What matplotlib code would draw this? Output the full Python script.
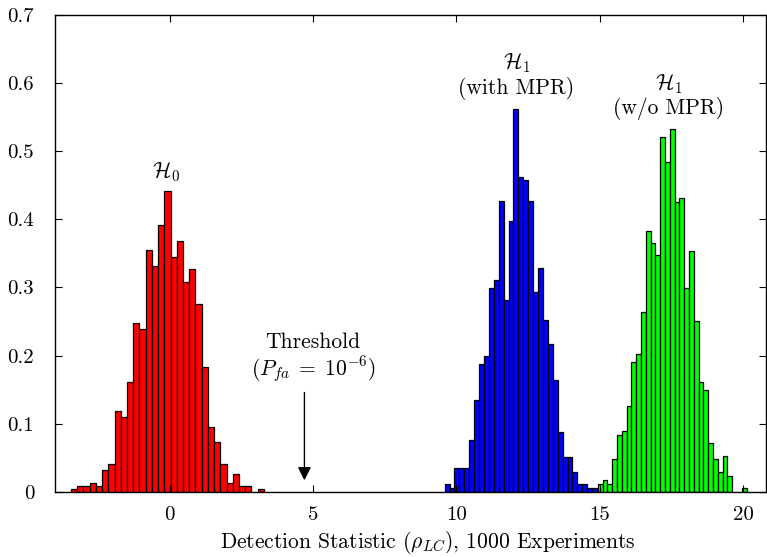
import numpy as np
import matplotlib
matplotlib.use("Agg")
import matplotlib.pyplot as plt

plt.rcParams['font.family'] = ['cmr10', 'DejaVu Serif']
plt.rcParams['mathtext.fontset'] = 'cm'
plt.rcParams['axes.formatter.use_mathtext'] = True

# Histogram bins (left edge of first bin, bin width) and density heights
h0_start, h0_width = -3.44, 0.217
h0_density = [0.004, 0.009, 0.009, 0.013, 0.009, 0.032, 0.041, 0.119, 0.110, 0.161,
              0.248, 0.239, 0.355, 0.331, 0.391, 0.442, 0.345, 0.368, 0.308, 0.327,
              0.276, 0.184, 0.096, 0.073, 0.041, 0.013, 0.027, 0.009, 0.009, 0.0,
              0.004]

h1_mpr_start, h1_mpr_width = 9.59, 0.1715
h1_mpr_density = [0.011, 0.006, 0.035, 0.035, 0.035, 0.076, 0.135, 0.187, 0.199, 0.299,
                  0.311, 0.427, 0.281, 0.398, 0.562, 0.462, 0.457, 0.427, 0.293, 0.328,
                  0.252, 0.217, 0.164, 0.088, 0.052, 0.052, 0.029, 0.011, 0.011, 0.006,
                  0.006]

h1_nompr_start, h1_nompr_width = 14.93, 0.1675
h1_nompr_density = [0.011, 0.017, 0.011, 0.048, 0.084, 0.090, 0.126, 0.191, 0.203, 0.264,
                    0.383, 0.365, 0.348, 0.521, 0.484, 0.532, 0.425, 0.431, 0.299, 0.353,
                    0.251, 0.161, 0.150, 0.072, 0.048, 0.030, 0.053, 0.024, 0.0, 0.0,
                    0.006]

threshold = 4.70
x_ticks = [0, 5, 10, 15, 20]
y_ticks = [0, 0.1, 0.2, 0.3, 0.4, 0.5, 0.6, 0.7]

fig = plt.figure(figsize=(7.67, 5.57), dpi=100)
ax = fig.add_axes([55 / 767, 65 / 557, 711 / 767, 477.4 / 557])


def draw(start, width, dens, color):
    dens = np.asarray(dens)
    edges = start + width * np.arange(len(dens))
    mask = dens > 0
    ax.bar(edges[mask], dens[mask], width=width, align='edge', color=color,
           edgecolor='black', linewidth=0.9)


draw(h0_start, h0_width, h0_density, '#ff0000')
draw(h1_mpr_start, h1_mpr_width, h1_mpr_density, '#0000ff')
draw(h1_nompr_start, h1_nompr_width, h1_nompr_density, '#00ff00')

ax.set_xlim(-4, 20.8)
ax.set_ylim(0, 0.7)
ax.set_xticks(x_ticks)
ax.set_yticks(y_ticks)
ax.set_xticklabels([str(t) for t in x_ticks])
ax.set_yticklabels(['0'] + ['%.1f' % t for t in y_ticks[1:]])
ax.tick_params(direction='in', top=True, right=True, length=5, width=0.8,
               labelsize=15)
ax.tick_params(axis='x', pad=10)
ax.tick_params(axis='y', pad=15)
for s in ax.spines.values():
    s.set_linewidth(1.0)

ax.set_xlabel(r'Detection Statistic ($\rho_{LC}$), 1000 Experiments', fontsize=15.5)
ax.xaxis.set_label_coords((428 - 55) / 711, -0.106)
ax.xaxis.label.set_va('center')

fs = 15.5
ax.text(-0.12, 0.469, r'$\mathcal{H}_0$', ha='center', va='center', fontsize=fs)
ax.text(12.1, 0.629, r'$\mathcal{H}_1$', ha='center', va='center', fontsize=fs)
ax.text(12.1, 0.591, '(with MPR)', ha='center', va='center', fontsize=fs)
ax.text(17.4, 0.598, r'$\mathcal{H}_1$', ha='center', va='center', fontsize=fs)
ax.text(17.4, 0.563, '(w/o MPR)', ha='center', va='center', fontsize=fs)
ax.text(5.0, 0.220, 'Threshold', ha='center', va='center', fontsize=fs)
ax.text(5.0, 0.179, r'$(P_{fa}\;=\;10^{-6})$', ha='center', va='center', fontsize=fs)
ax.annotate('', xy=(threshold, 0.013), xytext=(threshold, 0.150),
            arrowprops=dict(arrowstyle='-|>', color='black', lw=1.0,
                            mutation_scale=20))

fig.savefig('out.png', dpi=100)
